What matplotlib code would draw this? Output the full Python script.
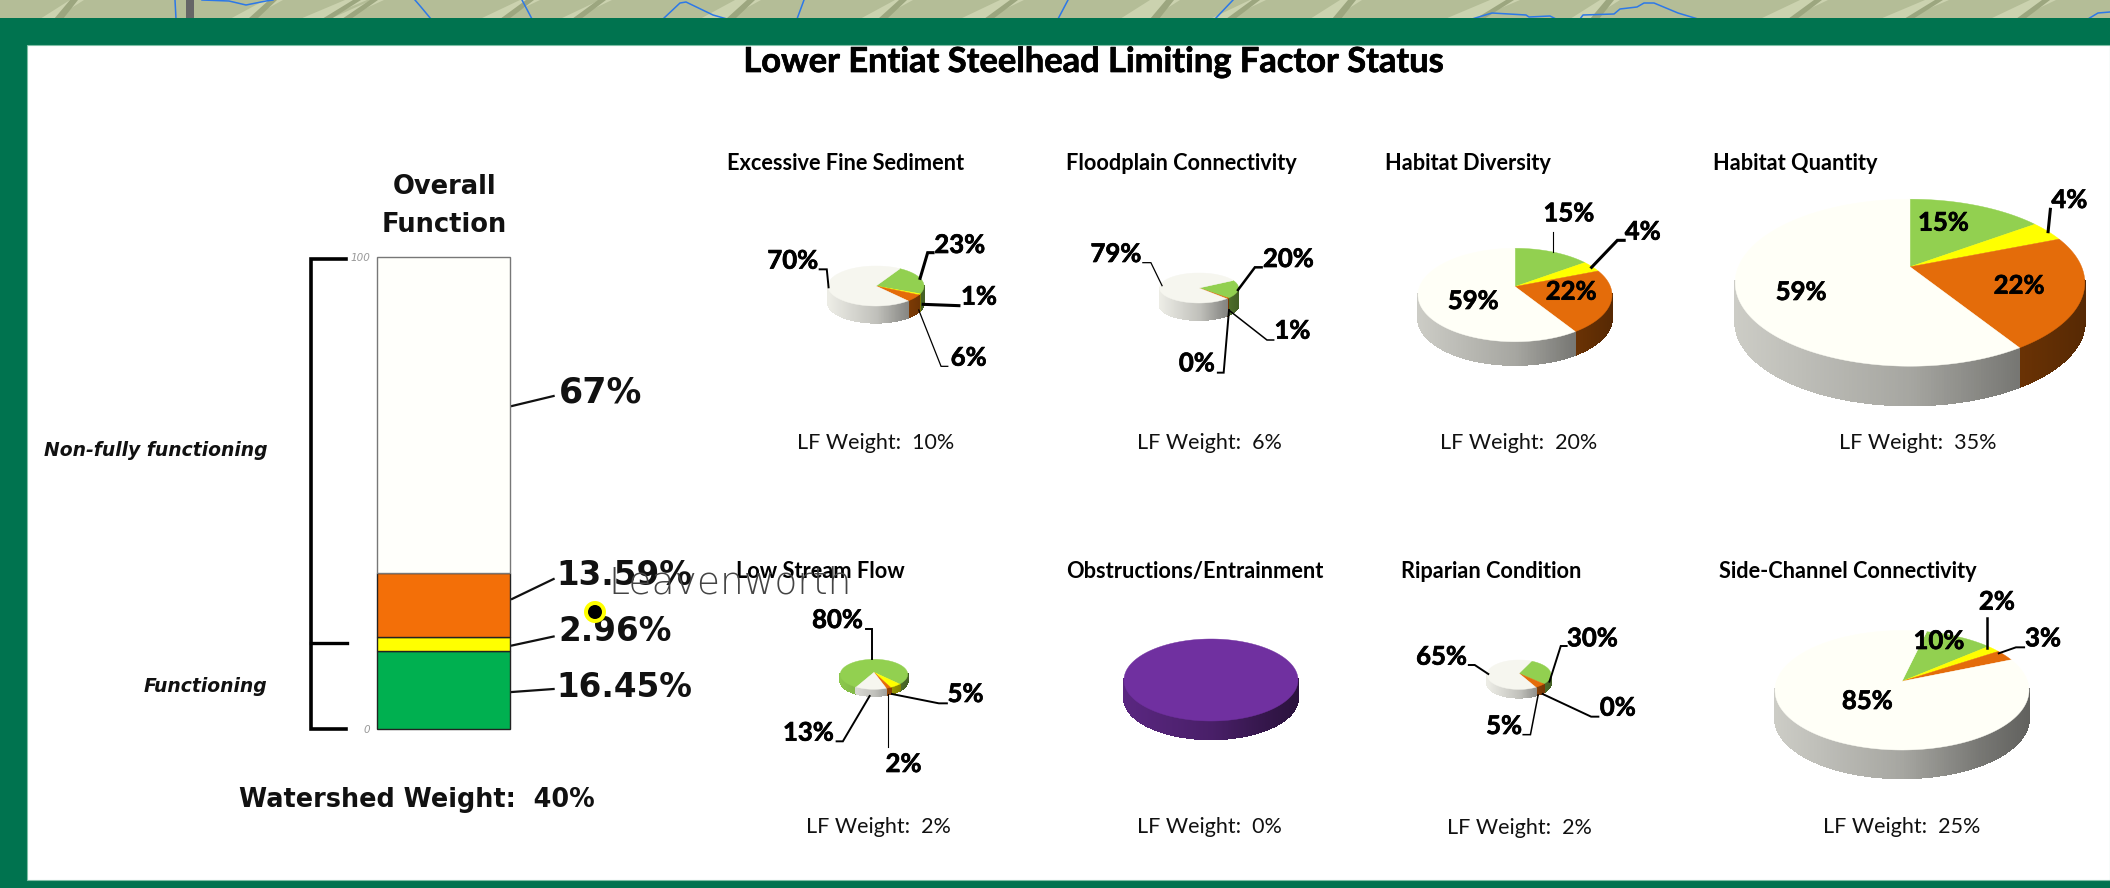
import numpy as np
import matplotlib
matplotlib.use("Agg")
import matplotlib.pyplot as plt
import matplotlib.patheffects as pe
from matplotlib.patches import Polygon, Rectangle, Circle
from matplotlib.collections import PolyCollection

W, H = 2110, 888
# ---------- data ----------
chart_title = "Lower Entiat Steelhead Limiting Factor Status"
bar_labels = ["16.45%", "2.96%", "13.59%", "67%"]
bar_values = [16.45, 2.96, 13.59, 67.0]
bar_colors = ["#00B050", "#FFFF00", "#F36F08", "#FFFFFB"]
pie_names = ["Excessive Fine Sediment", "Floodplain Connectivity", "Habitat Diversity", "Habitat Quantity",
             "Low Stream Flow", "Obstructions/Entrainment", "Riparian Condition", "Side-Channel Connectivity"]
efs_values = [23, 1, 6, 70]
flood_values = [20, 0, 1, 79]
diversity_values = [15, 4, 22, 59]
quantity_values = [15, 4, 22, 59]
flow_values = [80, 5, 2, 13]
obstruction_values = [100]
riparian_values = [30, 0, 5, 65]
side_values = [10, 2, 3, 85]
lf_weights = ["10%", "6%", "20%", "35%", "2%", "0%", "2%", "25%"]
watershed_weight = "40%"

GREEN, YELLOW, ORANGE = "#92D050", "#FFFF00", "#E46C0A"
CREAM, IVORY, PURPLE = "#F6F6EF", "#FFFFF7", "#7030A0"
FRAME = "#00734F"
SANS, NARROW = "DejaVu Sans", "Lato"
HEAVY = [pe.withStroke(linewidth=0.5, foreground="black")]

fig = plt.figure(figsize=(W / 100, H / 100), dpi=100, facecolor="white")
ax = fig.add_axes([0, 0, 1, 1])
ax.set_xlim(0, W)
ax.set_ylim(H, 0)
ax.axis("off")

# ---------- map strip and frame ----------
ax.add_patch(Rectangle((0, 0), W, 19, fc="#B4BD97", ec="none", zorder=0))
streaks = [(40, 70, 14), (230, 265, 18), (300, 345, 22), (330, 372, 12), (480, 520, 20), (560, 600, 12), (700, 735, 26),
           (860, 895, 18), (960, 1000, 24), (1120, 1150, 30), (1210, 1250, 16), (1310, 1340, 22), (1445, 1490, 30),
           (1570, 1600, 20), (1760, 1800, 28), (1880, 1925, 24), (1990, 2030, 26)]
for x0, x1, w in streaks:
    ax.add_patch(Polygon([(x0, 19), (x0 + w, 19), (x1 + w, 0), (x1, 0)], fc="#CBD2AF", ec="none", zorder=0.5))
    ax.add_patch(Polygon([(x0 + w, 19), (x0 + w + 9, 19), (x1 + w - 6, 0), (x1 + w - 14, 0)], fc="#9CA67F", ec="none", zorder=0.6))
rivers = [[(175, 0), (176, 19)], [(202, 0), (229, 1), (246, 5), (266, 1), (273, 0)], [(415, 0), (421, 7), (431, 19)],
          [(522, 0), (532, 19)], [(663, 19), (680, 3), (686, 2), (713, 15), (727, 19)], [(804, 0), (797, 19)],
          [(1068, 0), (1058, 19)], [(1233, 0), (1215, 19)],
          [(1472, 19), (1492, 13), (1526, 15), (1529, 17), (1550, 16), (1556, 19)],
          [(1580, 19), (1583, 15), (1614, 14), (1620, 9), (1637, 7), (1644, 3), (1654, 3), (1678, 13), (1698, 19)],
          [(2088, 19), (2098, 13), (2110, 12)]]
for r in rivers:
    ax.plot(*zip(*r), color="#2C78E8", lw=1.1, zorder=1)
ax.add_patch(Rectangle((186, 0), 8, 19, fc="#666666", ec="none", zorder=1))
ax.add_patch(Rectangle((0, 18.5), W, H - 18.5, fc=FRAME, ec="none", zorder=2))
ax.add_patch(Rectangle((27, 45), W - 27, 835, fc="white", ec="#7FBFA6", lw=0.8, zorder=3))

TXT = 6
ax.text(1094, 62, chart_title, family=NARROW, weight="bold", fontsize=24.8, ha="center", va="center", color="black",
        zorder=TXT, path_effects=HEAVY)


# ---------- pies ----------
def shade(color, u, bright):
    f = np.interp(u, [-1, 0, 0.6, 1], [0.8, 0.65, 0.47, 0.38]) * bright
    return tuple(np.clip(np.array(matplotlib.colors.to_rgb(color)) * f, 0, 1))


def pie3d(values, colors, cx, cy, rx, ry, depth, d, start, bright=1.0):
    """Perspective 3-D pie: clockwise from north, apex shifted by d of the radius."""
    def pts(theta):
        t = np.radians(theta)
        u0, v0 = np.sin(t), np.cos(t)
        den = 1 + d * v0
        return u0 * np.sqrt(1 - d * d) / den, (v0 + d) / den
    total = float(sum(values))
    a0 = start
    quads, qcols, tops = [], [], []
    for val, col in zip(values, colors):
        a1 = a0 + 360.0 * val / total
        n = max(int(abs(a1 - a0) / 0.75), 1) + 1
        th = np.linspace(a0, a1, n)
        u, v = pts(th)
        X, Y = cx + rx * u, cy - ry * v
        if val > 0:
            poly = np.column_stack([X, Y])
            if total != val:
                poly = np.vstack([[cx, cy - ry * d], poly])
            tops.append((poly, col))
        for i in range(n - 1):
            if v[i] < 0.02 or v[i + 1] < 0.02:
                quads.append([(X[i], Y[i]), (X[i + 1], Y[i + 1]), (X[i + 1], Y[i + 1] + depth), (X[i], Y[i] + depth)])
                qcols.append(shade(col, 0.5 * (u[i] + u[i + 1]), bright))
        a0 = a1
    ax.add_collection(PolyCollection(quads, facecolors=qcols, edgecolors=qcols, linewidths=0.6, antialiaseds=False, zorder=4))
    for poly, col in tops:
        ax.add_patch(Polygon(poly, fc=col, ec=col, lw=0.3, zorder=4.5))


pie3d(efs_values, [GREEN, YELLOW, ORANGE, CREAM], 876, 286, 48, 20, 16.7, 0.0, 30, bright=1.2)
pie3d(flood_values, [GREEN, YELLOW, ORANGE, CREAM], 1199, 288, 39.5, 15, 17, 0.0, 60, bright=1.2)
pie3d(diversity_values, [GREEN, YELLOW, ORANGE, IVORY], 1515, 295, 97, 46.7, 23.3, 0.18, 0)
pie3d(quantity_values, [GREEN, YELLOW, ORANGE, IVORY], 1910, 282.7, 174.8, 83.5, 39.3, 0.19, 0)
pie3d(flow_values, [GREEN, YELLOW, ORANGE, CREAM], 874, 674.3, 33.7, 15, 6.7, 0.13, 208, bright=1.2)
pie3d(obstruction_values, [PURPLE], 1211, 680, 87, 41, 18.3, 0.0, 0)
pie3d(riparian_values, [GREEN, YELLOW, ORANGE, CREAM], 1519, 674.7, 32, 14.7, 8.3, 0.09, 25, bright=1.2)
pie3d(side_values, [GREEN, YELLOW, ORANGE, IVORY], 1902, 690.3, 127, 59.7, 28.3, 0.15, 13)

title_x = [727, 1066, 1385, 1713, 736, 1066, 1401, 1719]
title_y = [163] * 4 + [571] * 4
for name, x, y in zip(pie_names, title_x, title_y):
    ax.text(x, y, name, family=NARROW, weight="bold", fontsize=15.7, ha="left", va="center", color="black", zorder=TXT)
lf_x = [876, 1209, 1519, 1918, 878, 1209, 1519, 1902]
lf_y = [443] * 4 + [827, 827, 828, 827]
for w, x, y in zip(lf_weights, lf_x, lf_y):
    ax.text(x, y, f"LF Weight:  {w}", family=NARROW, fontsize=15.5, ha="center", va="center", color="#111111", zorder=TXT)


# label position helpers (crop-derived offsets)
def row1a(p): return (700 + p[0] / 2.24, 130 + p[1] / 3)
def row1b(p): return (1400 + p[0] / 2.208, 130 + p[1] / 3)
def row2a(p): return (700 + p[0] / 2.24, 540 + p[1] / 3)
def row2b(p): return (1400 + p[0] / 2.208, 540 + p[1] / 3)


pie_labels = [
    (row1a, "70%", (208, 392), [(268, 418), (284, 418), (288, 472)], 1.4),
    (row1a, "23%", (582, 345), [(522, 368), (510, 368), (493, 445)], 2.2),
    (row1a, "1%", (625, 500), [(580, 527), (500, 523)], 2.2),
    (row1a, "6%", (602, 683), [(555, 709), (540, 709), (490, 540)], 0.9),
    (row1a, "79%", (932, 372), [(992, 398), (1010, 398), (1035, 467)], 0.9),
    (row1a, "20%", (1318, 387), [(1258, 412), (1243, 412), (1205, 480)], 1.8),
    (row1a, "1%", (1327, 602), [(1285, 630), (1270, 630), (1187, 543)], 1.1),
    (row1a, "0%", (1113, 700), [(1160, 728), (1173, 728), (1185, 540)], 1.4),
    (row1b, "15%", (373, 250), [(337, 305), (337, 367)], 0.8),
    (row1b, "4%", (536, 305), [(495, 331), (480, 331), (423, 412)], 2.2),
    (row1b, "22%", (378, 485), None, 0),
    (row1b, "59%", (162, 513), None, 0),
    (row1b, "15%", (1200, 278), None, 0),
    (row1b, "59%", (886, 486), None, 0),
    (row1b, "22%", (1367, 467), None, 0),
    (row1b, "4%", (1478, 210), [(1436, 238), (1431, 305)], 2.2),
    (row2a, "80%", (308, 240), [(372, 267), (385, 267), (385, 357)], 1.4),
    (row2a, "5%", (595, 462), [(553, 490), (535, 490), (430, 462)], 1.4),
    (row2a, "13%", (243, 578), [(306, 604), (320, 604), (380, 468)], 1.4),
    (row2a, "2%", (456, 672), [(420, 620), (420, 462)], 0.8),
    (row2b, "65%", (92, 350), [(152, 375), (165, 375), (195, 402)], 1.4),
    (row2b, "30%", (425, 295), [(368, 318), (355, 318), (330, 425)], 1.4),
    (row2b, "0%", (481, 503), [(438, 530), (422, 530), (315, 462)], 1.4),
    (row2b, "5%", (230, 558), [(272, 584), (288, 584), (305, 465)], 1.1),
    (row2b, "85%", (1032, 483), None, 0),
    (row2b, "10%", (1190, 303), None, 0),
    (row2b, "2%", (1318, 185), [(1297, 233), (1297, 325)], 1.8),
    (row2b, "3%", (1420, 295), [(1378, 322), (1360, 322), (1322, 340)], 1.4),
]
for conv, s, pos, leader, lw in pie_labels:
    x, y = conv(pos)
    ax.text(x, y, s, family=NARROW, weight="bold", fontsize=18.5, ha="center", va="center", color="black",
            zorder=TXT, path_effects=HEAVY)
    if leader:
        ax.plot(*zip(*[conv(p) for p in leader]), color="black", lw=lw, zorder=5, solid_joinstyle="miter")

# ---------- stacked bar ----------
bar_ax = fig.add_axes([377 / W, 1 - 729 / H, 132.5 / W, 472 / H], facecolor="none")
bottom = 0.0
for val, col in zip(bar_values, bar_colors):
    ec = "#777777" if col == "#FFFFFB" else "#222222"
    bar_ax.bar(0, val, 1, bottom=bottom, color=col, edgecolor=ec, lw=1.0, clip_on=False)
    bottom += val
bar_ax.set_xlim(-0.5, 0.5)
bar_ax.set_ylim(0, 100)
bar_ax.set_xticks([])
bar_ax.set_yticks([0, 100])
bar_ax.set_yticklabels(["0", "100"], fontsize=7.5, style="italic", color="#999999", family=SANS)
bar_ax.tick_params(axis="y", length=0, pad=5)
for s in bar_ax.spines.values():
    s.set_visible(False)

ax.text(444.6, 187, "Overall", family=SANS, weight="bold", fontsize=18.5, ha="center", va="center", color="#111111", zorder=TXT)
ax.text(444.6, 225, "Function", family=SANS, weight="bold", fontsize=18.5, ha="center", va="center", color="#111111", zorder=TXT)

ax.plot([346, 311, 311, 346], [259, 259, 729, 729], color="black", lw=2.6, zorder=5, solid_joinstyle="miter")
ax.plot([311, 347], [642.7, 642.7], color="black", lw=2.4, zorder=5)
ax.text(267, 450, "Non-fully functioning", family=SANS, style="italic", weight="bold", fontsize=13.5, ha="right", va="center", zorder=TXT, color="#111111")
ax.text(267, 686, "Functioning", family=SANS, style="italic", weight="bold", fontsize=13.5, ha="right", va="center", zorder=TXT, color="#111111")

bar_text_x = [556, 558, 556, 559]
bar_text_y = [687, 631, 575, 392]
bar_sizes = [23.5, 23.5, 23.5, 25]
bar_leaders = [[(512, 692), (553.6, 689)], [(512, 645.5), (553.6, 636.5)], [(512, 599), (553.6, 579)], [(512, 406), (553.6, 396)]]
for s, x, y, fs, ld in zip(bar_labels, bar_text_x, bar_text_y, bar_sizes, bar_leaders):
    ax.text(x, y, s, family=SANS, weight="bold", fontsize=fs, ha="left", va="center", color="#111111", zorder=TXT)
    ax.plot(*zip(*ld), color="#111111", lw=1.6, zorder=5)
ax.text(417, 800, f"Watershed Weight:  {watershed_weight}", family=SANS, weight="bold", fontsize=18.4, ha="center", va="center", color="#111111", zorder=TXT)

# ---------- map label overlay ----------
ax.add_patch(Circle((595, 612), 11, fc="#FFFF00", ec="none", zorder=7))
ax.add_patch(Circle((595, 612), 7, fc="black", ec="none", zorder=7.1))
ax.text(608, 583, "Leavenworth", family=SANS, weight=200, fontsize=27, ha="left", va="center", color="#444444", zorder=7.2)

fig.savefig("out.png", dpi=100, facecolor="white")
